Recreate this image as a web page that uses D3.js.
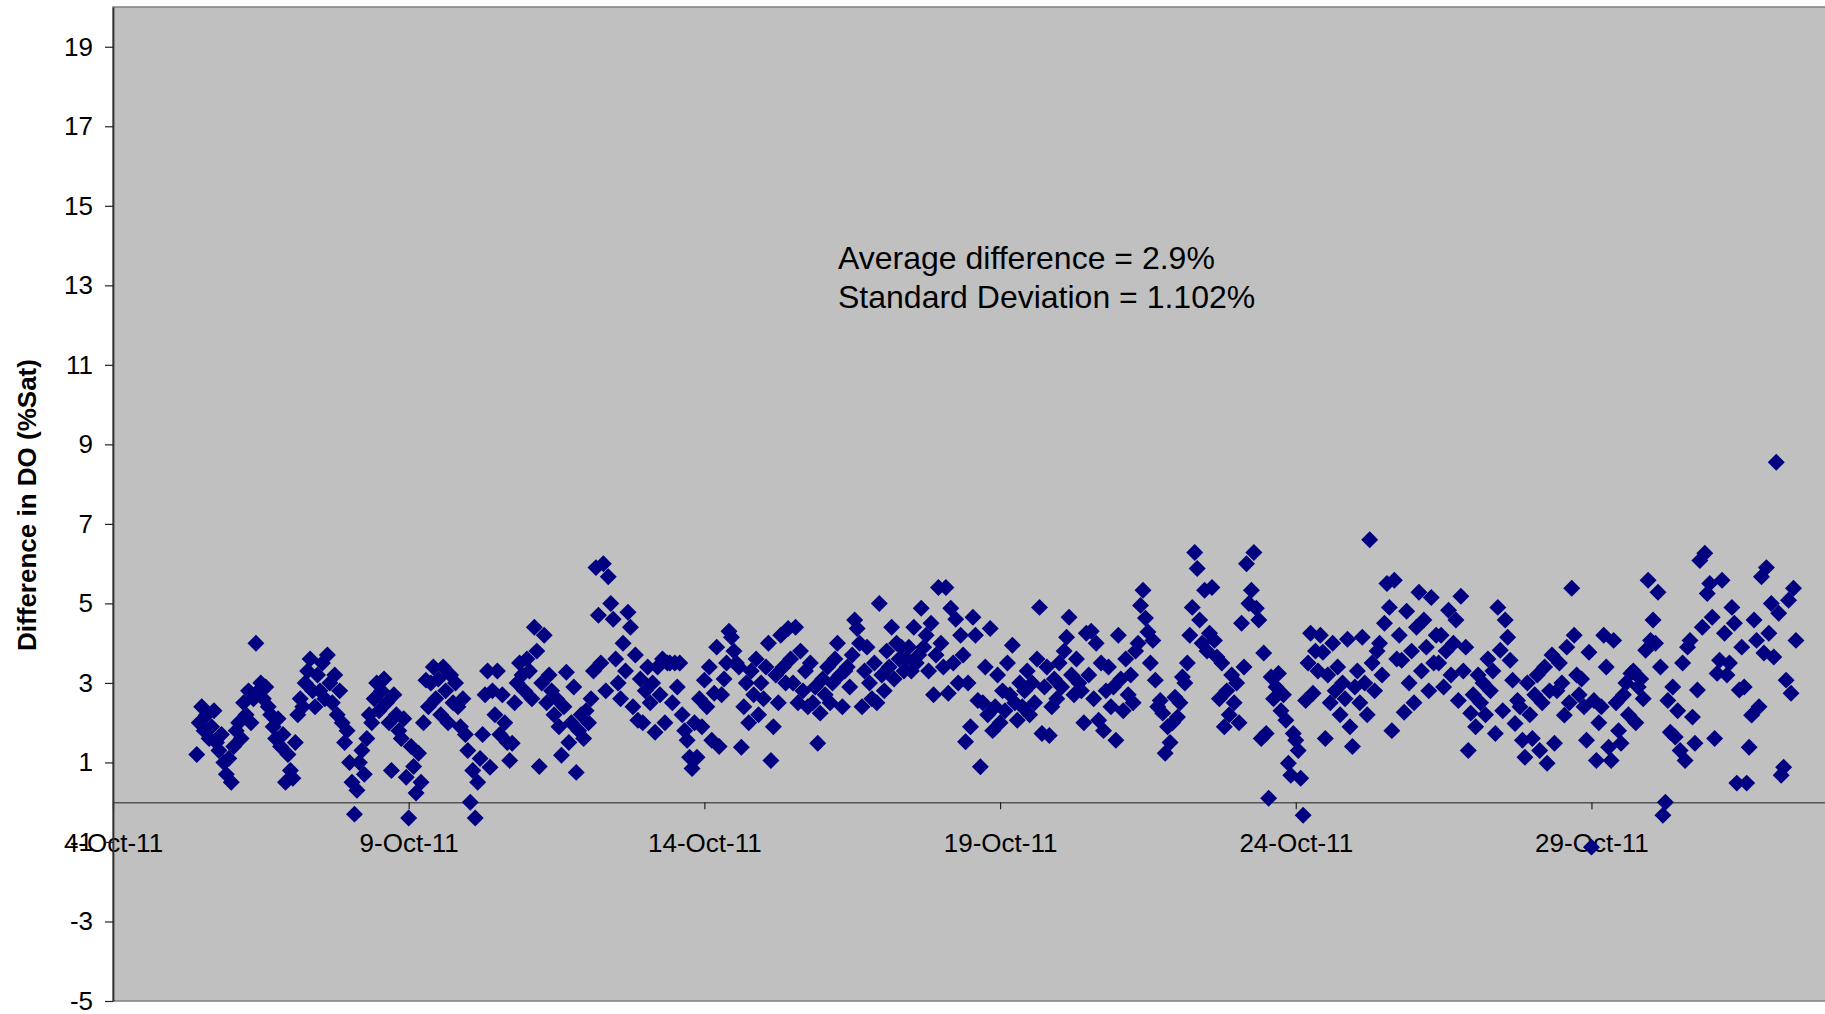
<!DOCTYPE html>
<html>
<head>
<meta charset="utf-8">
<script src="https://cdn.jsdelivr.net/npm/d3@7/dist/d3.min.js"></script>
<style>
  html, body { margin: 0; padding: 0; background: #ffffff; }
  svg { display: block; }
  text { font-family: "Liberation Sans", Arial, sans-serif; fill: #000; }
</style>
</head>
<body>
<svg id="chart" width="1825" height="1014"></svg>
<script>
// ---- data ----
const seriesStart = "2011-10-05T10:00:00Z";   // first reading, hourly readings afterwards
const stepHours = 1;
const doDiff = [
  1.2, 2.0, 2.4, 1.8, 2.2, 1.6, 1.9, 2.3, 1.5, 1.3, 1.7, 1.0, 0.7, 1.1, 0.5, 1.4, 1.8, 2.0, 1.6, 2.5, 2.2, 2.8, 2.0, 2.6,
  4.0, 2.8, 3.0, 2.6, 2.9, 2.4, 2.2, 1.9, 1.6, 2.1, 1.4, 1.7, 0.5, 1.2, 0.8, 0.6, 1.5, 2.2, 2.6, 2.4, 3.0, 3.3, 3.6, 2.8,
  2.4, 3.2, 2.8, 3.5, 2.6, 3.7, 3.0, 2.5, 3.2, 2.2, 2.8, 2.0, 1.5, 1.8, 1.0, 0.5, -0.3, 0.3, 1.0, 1.3, 0.7, 1.6, 2.2, 2.0,
  2.6, 3.0, 2.3, 2.8, 3.1, 2.5, 2.0, 0.8, 2.7, 2.2, 1.8, 1.6, 2.1, 0.63, -0.4, 1.4, 0.9, 0.23, 1.23, 0.5, 2.0, 3.07, 2.4, 3.0,
  3.4, 2.6, 3.1, 2.2, 3.4, 2.8, 2.0, 3.2, 2.5, 3.0, 2.4, 1.9, 2.6, 1.7, 1.3, 0.0, 0.8, -0.4, 0.5, 1.1, 1.7, 2.7, 3.3, 0.88,
  2.8, 2.2, 3.3, 1.7, 2.7, 2.0, 1.5, 1.05, 1.48, 2.5, 3.0, 3.5, 3.2, 2.8, 3.6, 3.3, 2.6, 4.4, 3.8, 0.9, 3.0, 4.2, 2.5, 3.2,
  2.8, 2.2, 2.6, 1.9, 1.18, 2.4, 3.27, 1.5, 2.0, 2.9, 0.75, 1.8, 2.2, 1.6, 2.3, 2.0, 2.6, 3.3, 5.9, 4.7, 3.5, 6.0, 2.8, 5.67,
  5.0, 4.6, 3.6, 3.0, 2.6, 4.0, 3.3, 4.78, 4.4, 2.4, 3.7, 2.06, 3.1, 2.0, 2.8, 3.4, 2.5, 3.0, 1.76, 3.4, 2.7, 3.6, 2.0, 3.5,
  3.5, 2.5, 3.5, 2.9, 3.5, 2.2, 1.8, 1.56, 1.13, 0.85, 2.0, 1.13, 2.6, 1.9, 3.07, 2.4, 3.4, 1.56, 2.74, 3.9, 1.4, 2.7, 3.1, 3.5,
  4.3, 4.15, 3.8, 3.5, 3.4, 1.38, 2.4, 3.0, 2.0, 3.3, 2.7, 3.6, 2.2, 3.0, 2.6, 3.4, 4.0, 1.05, 1.9, 3.2, 2.5, 4.2, 3.4, 3.0,
  4.37, 3.6, 3.0, 4.4, 2.5, 3.8, 2.8, 3.3, 2.4, 3.5, 2.5, 2.9, 1.48, 2.24, 3.1, 2.7, 3.4, 2.5, 3.0, 3.6, 4.0, 3.2, 2.4, 3.3,
  3.4, 2.9, 3.7, 4.58, 4.37, 4.0, 2.4, 3.3, 3.9, 3.0, 2.6, 3.5, 2.5, 5.0, 3.2, 2.8, 3.8, 3.4, 4.4, 3.1, 4.0, 3.6, 3.9, 3.3,
  3.6, 3.9, 3.3, 4.4, 3.5, 3.7, 4.88, 3.9, 4.2, 3.3, 4.5, 2.7, 3.7, 5.4, 4.0, 3.4, 5.4, 2.74, 4.88, 3.5, 4.6, 3.0, 4.2, 3.7,
  1.52, 3.0, 1.9, 4.65, 4.2, 2.56, 0.89, 2.5, 3.4, 2.2, 4.37, 1.8, 2.4, 3.2, 2.0, 2.8, 2.3, 3.5, 2.7, 3.95, 2.5, 2.06, 3.0, 2.4,
  2.8, 3.3, 2.2, 3.0, 2.5, 3.6, 4.9, 1.73, 2.9, 3.4, 1.68, 2.4, 3.1, 2.6, 3.5, 2.9, 3.8, 4.15, 4.65, 3.2, 2.7, 3.6, 3.0, 2.8,
  2.0, 4.25, 3.2, 4.3, 2.6, 4.0, 2.06, 3.5, 1.8, 2.8, 3.4, 2.4, 2.9, 1.56, 4.2, 3.1, 2.3, 3.6, 2.7, 3.2, 2.5, 3.8, 4.0, 4.95,
  5.33, 4.63, 4.28, 3.5, 4.07, 3.07, 2.4, 2.56, 2.24, 1.23, 1.9, 1.5, 2.0, 2.64, 2.14, 2.5, 3.15, 3.0, 3.5, 4.2, 4.9, 6.28, 5.88, 4.58,
  4.0, 5.33, 3.8, 4.25, 5.4, 4.07, 3.65, 2.6, 3.5, 1.9, 2.8, 2.2, 3.2, 2.5, 3.0, 2.0, 4.5, 3.4, 6.0, 5.0, 5.33, 6.28, 4.88, 4.58,
  1.6, 3.75, 1.73, 0.1, 3.15, 2.6, 2.9, 3.24, 2.3, 2.7, 2.06, 0.98, 0.68, 1.73, 1.56, 1.3, 0.6, -0.33, 2.56, 3.5, 4.25, 2.74, 3.8, 3.3,
  4.2, 3.77, 1.6, 3.2, 2.5, 4.0, 2.8, 3.4, 2.2, 3.0, 2.6, 4.1, 1.9, 1.4, 2.9, 3.3, 2.5, 4.15, 3.0, 2.2, 6.6, 3.5, 2.8, 3.8,
  4.0, 3.2, 4.5, 5.5, 4.9, 1.8, 5.58, 3.6, 4.2, 3.57, 2.26, 4.8, 3.0, 3.8, 2.5, 4.4, 5.28, 3.3, 4.58, 3.9, 2.8, 5.15, 3.5, 4.2,
  3.5, 4.2, 2.9, 3.8, 4.83, 3.2, 4.0, 4.58, 2.56, 5.18, 3.3, 3.9, 1.3, 2.24, 2.7, 1.9, 3.2, 2.5, 3.0, 2.2, 3.6, 2.8, 3.3, 1.73,
  4.9, 3.82, 2.3, 4.58, 4.15, 3.57, 3.07, 1.98, 2.56, 2.4, 1.56, 1.13, 3.0, 2.2, 1.6, 2.7, 3.2, 1.3, 2.5, 3.4, 0.98, 2.8, 3.7, 1.48,
  2.8, 3.5, 3.0, 2.19, 3.9, 2.5, 5.38, 4.2, 3.2, 2.7, 3.1, 2.4, 1.56, 3.77, -1.13, 2.56, 1.05, 2.0, 2.4, 4.2, 3.4, 1.38, 1.05, 4.07,
  2.5, 1.8, 1.48, 2.7, 3.0, 2.2, 3.24, 3.3, 2.0, 2.9, 3.1, 2.6, 3.82, 5.58, 4.07, 4.58, 4.0, 5.28, 3.4, -0.33, 0.0, 2.56, 1.76, 2.9,
  1.64, 2.3, 1.3, 3.5, 1.05, 3.9, 4.07, 2.14, 1.48, 2.82, 6.08, 4.4, 6.26, 5.25, 5.5, 4.65, 1.6, 3.24, 3.57, 5.58, 4.25, 3.2, 3.5, 4.9,
  4.5, 0.48, 2.82, 3.9, 2.9, 0.48, 1.38, 2.19, 4.58, 4.07, 2.4, 5.67, 3.75, 5.9, 4.25, 5.0, 3.65, 8.55, 4.75, 0.68, 0.88, 3.07, 5.08, 2.74, 5.38, 4.07
];
const xDomain = ["2011-10-04T00:00:00Z", "2011-11-02T00:00:00Z"];
const xTickDates = ["2011-10-04", "2011-10-09", "2011-10-14", "2011-10-19", "2011-10-24", "2011-10-29"];
const yDomain = [-5, 20];
const yTicks = [-5, -3, -1, 1, 3, 5, 7, 9, 11, 13, 15, 17, 19];
const yTitle = "Difference in DO (%Sat)";
const notes = ["Average difference = 2.9%", "Standard Deviation = 1.102%"];

// ---- layout ----
const W = 1825, H = 1014;
const plot = { left: 113, top: 7, right: 1828, bottom: 1001 };

const svg = d3.select("#chart");
svg.append("rect").attr("width", W).attr("height", H).attr("fill", "#ffffff");

const x = d3.scaleUtc()
  .domain(xDomain.map(d => new Date(d)))
  .range([plot.left, plot.right]);
const y = d3.scaleLinear().domain(yDomain).range([plot.bottom, plot.top]);

// plot area
svg.append("rect")
  .attr("x", plot.left).attr("y", plot.top)
  .attr("width", plot.right - plot.left + 10).attr("height", plot.bottom - plot.top)
  .attr("fill", "#C0C0C0").attr("stroke", "#808080").attr("stroke-width", 1.5);

// data
const t0 = new Date(seriesStart);
const points = doDiff.map((v, i) => ({ t: d3.utcHour.offset(t0, i * stepHours), v }));

const diamond = {
  draw(ctx, size) {
    const r = Math.sqrt(size / 2);
    ctx.moveTo(0, -r); ctx.lineTo(r, 0); ctx.lineTo(0, r); ctx.lineTo(-r, 0); ctx.closePath();
  }
};
const sym = d3.symbol().type(diamond).size(144);

// x axis at y = 0
const xAxis = d3.axisBottom(x)
  .tickValues(xTickDates.map(d => new Date(d + "T00:00:00Z")))
  .tickFormat(d3.utcFormat("%-d-%b-%y"))
  .tickSize(7).tickPadding(24).tickSizeOuter(0);
const gx = svg.append("g").attr("transform", `translate(0,${y(0)})`).call(xAxis);
gx.select(".domain").attr("stroke", "#555").attr("stroke-width", 1.5);
gx.selectAll(".tick line").attr("stroke", "#222").attr("stroke-width", 1.2);
gx.selectAll(".tick text").attr("font-size", 26).attr("fill", "#000")
  .attr("font-family", "'Liberation Sans', Arial, sans-serif");

// y axis (plain hyphen-minus like the reference)
const yAxis = d3.axisLeft(y).tickValues(yTicks).tickFormat(d => String(d))
  .tickSize(8).tickPadding(12).tickSizeOuter(0);
const gy = svg.append("g").attr("transform", `translate(${plot.left},0)`).call(yAxis);
gy.select(".domain").attr("stroke", "#333").attr("stroke-width", 1.8);
gy.selectAll(".tick line").attr("stroke", "#222").attr("stroke-width", 1.2);
gy.selectAll(".tick text").attr("font-size", 26).attr("fill", "#000")
  .attr("font-family", "'Liberation Sans', Arial, sans-serif");

// points
svg.append("g").selectAll("path")
  .data(points).join("path")
  .attr("transform", d => `translate(${x(d.t)},${y(d.v)})`)
  .attr("d", sym)
  .attr("fill", "#000080");

// y title
svg.append("text")
  .attr("transform", `translate(36,${(plot.top + plot.bottom) / 2 + 1}) rotate(-90)`)
  .attr("text-anchor", "middle")
  .attr("font-size", 26).attr("font-weight", "bold")
  .text(yTitle);

// annotation
const ann = svg.append("text").attr("x", 838).attr("y", 269).attr("font-size", 32);
notes.forEach((s, i) => ann.append("tspan").attr("x", 838).attr("dy", i === 0 ? 0 : 39).text(s));
</script>
</body>
</html>
